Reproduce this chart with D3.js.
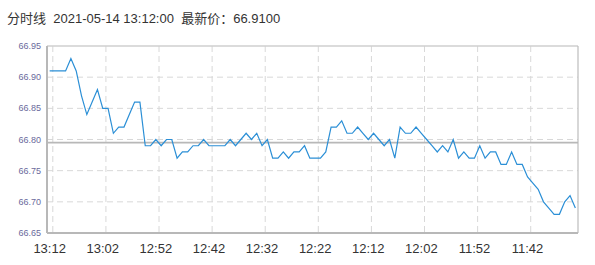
<!DOCTYPE html>
<html>
<head>
<meta charset="utf-8">
<script src="https://cdn.jsdelivr.net/npm/d3@7"></script>
<style>
  body { margin: 0; background: #fff; }
  svg { display: block; }
</style>
</head>
<body>
<svg id="chart"></svg>
<script>

// minutes, newest first (the chart runs right-to-left in time)
var times = [
  "13:12","13:11","13:10","13:09","13:08","13:07","13:06","13:05","13:04","13:03",
  "13:02","13:01","13:00","12:59","12:58","12:57","12:56","12:55","12:54","12:53",
  "12:52","12:51","12:50","12:49","12:48","12:47","12:46","12:45","12:44","12:43",
  "12:42","12:41","12:40","12:39","12:38","12:37","12:36","12:35","12:34","12:33",
  "12:32","12:31","12:30","12:29","12:28","12:27","12:26","12:25","12:24","12:23",
  "12:22","12:21","12:20","12:19","12:18","12:17","12:16","12:15","12:14","12:13",
  "12:12","12:11","12:10","12:09","12:08","12:07","12:06","12:05","12:04","12:03",
  "12:02","12:01","12:00","11:59","11:58","11:57","11:56","11:55","11:54","11:53",
  "11:52","11:51","11:50","11:49","11:48","11:47","11:46","11:45","11:44","11:43",
  "11:42","11:41","11:40","11:39","11:38","11:37","11:36","11:35","11:34","11:33"
];

var prices = [
  66.91,66.91,66.91,66.91,66.93,66.91,66.87,66.84,66.86,66.88,
  66.85,66.85,66.81,66.82,66.82,66.84,66.86,66.86,66.79,66.79,
  66.80,66.79,66.80,66.80,66.77,66.78,66.78,66.79,66.79,66.80,
  66.79,66.79,66.79,66.79,66.80,66.79,66.80,66.81,66.80,66.81,
  66.79,66.80,66.77,66.77,66.78,66.77,66.78,66.78,66.79,66.77,
  66.77,66.77,66.78,66.82,66.82,66.83,66.81,66.81,66.82,66.81,
  66.80,66.81,66.80,66.79,66.80,66.77,66.82,66.81,66.81,66.82,
  66.81,66.80,66.79,66.78,66.79,66.78,66.80,66.77,66.78,66.77,
  66.77,66.79,66.77,66.78,66.78,66.76,66.76,66.78,66.76,66.76,
  66.74,66.73,66.72,66.70,66.69,66.68,66.68,66.70,66.71,66.69
];

var xTickLabels = ["13:12","13:02","12:52","12:42","12:32","12:22","12:12","12:02","11:52","11:42"];
var yTicks = [66.65, 66.70, 66.75, 66.80, 66.85, 66.90, 66.95];
var prevClose = 66.795;
var titleText = "分时线  2021-05-14 13:12:00  最新价：66.9100";

var width = 595, height = 265;
var margin = {top: 46, right: 17, bottom: 32, left: 47};

var svg = d3.select("#chart")
    .attr("width", width)
    .attr("height", height);

var x = d3.scaleBand()
    .domain(times)
    .range([margin.left, width - margin.right])
    .padding(0);

var bw = x.bandwidth();
function cx(t) { return x(t) + bw / 2; }

var y = d3.scaleLinear()
    .domain([66.65, 66.95])
    .range([height - margin.bottom, margin.top]);

var x0 = margin.left, x1 = width - margin.right;
var y0 = y(66.65), y1 = y(66.95);

// title
svg.append("text")
    .attr("x", 7)
    .attr("y", 23)
    .attr("font-family", "'Liberation Sans', 'Noto Sans CJK SC', sans-serif")
    .attr("font-size", 13)
    .attr("fill", "#333")
    .style("white-space", "pre")
    .attr("xml:space", "preserve")
    .text(titleText);

// horizontal dashed grid
svg.append("g")
  .selectAll("line")
  .data(yTicks.slice(1, -1))
  .enter().append("line")
    .attr("x1", x0).attr("x2", x1)
    .attr("y1", function(d) { return y(d); })
    .attr("y2", function(d) { return y(d); })
    .attr("stroke", "#d8d8d8")
    .attr("stroke-width", 1)
    .attr("stroke-dasharray", "6,4");

// vertical dashed grid (sits at the right edge of each labelled minute)
svg.append("g")
  .selectAll("line")
  .data(xTickLabels)
  .enter().append("line")
    .attr("x1", function(d) { return cx(d) + bw / 2 + 0.5; })
    .attr("x2", function(d) { return cx(d) + bw / 2 + 0.5; })
    .attr("y1", y1).attr("y2", y0)
    .attr("stroke", "#d8d8d8")
    .attr("stroke-width", 1)
    .attr("stroke-dasharray", "6,4");

// frame
svg.append("line").attr("x1", x0).attr("x2", x1).attr("y1", y1).attr("y2", y1)
    .attr("stroke", "#cfcfcf").attr("stroke-width", 1.5);
svg.append("line").attr("x1", x1).attr("x2", x1).attr("y1", y1).attr("y2", y0)
    .attr("stroke", "#bdbdbd").attr("stroke-width", 1.2);
svg.append("line").attr("x1", x0).attr("x2", x0).attr("y1", y1).attr("y2", y0)
    .attr("stroke", "#b8b8b8").attr("stroke-width", 2);
svg.append("line").attr("x1", x0).attr("x2", x1).attr("y1", y0).attr("y2", y0)
    .attr("stroke", "#b8b8b8").attr("stroke-width", 2);

// previous close
svg.append("line")
    .attr("x1", x0).attr("x2", x1)
    .attr("y1", y(prevClose)).attr("y2", y(prevClose))
    .attr("stroke", "#b8b8b8")
    .attr("stroke-width", 1.6);

// y labels
svg.append("g")
  .selectAll("text")
  .data(yTicks)
  .enter().append("text")
    .attr("x", 41)
    .attr("y", function(d) { return y(d) + 3; })
    .attr("text-anchor", "end")
    .attr("font-family", "'Liberation Sans', Arial, sans-serif")
    .attr("font-size", 9)
    .attr("fill", "#6a6a9c")
    .text(function(d) { return d.toFixed(2); });

// x labels
svg.append("g")
  .selectAll("text")
  .data(xTickLabels)
  .enter().append("text")
    .attr("x", function(d) { return cx(d); })
    .attr("y", 253)
    .attr("text-anchor", "middle")
    .attr("font-family", "'Liberation Sans', Arial, sans-serif")
    .attr("font-size", 13)
    .attr("fill", "#333")
    .text(function(d) { return d; });

// price line
var line = d3.line()
    .x(function(d, i) { return cx(times[i]); })
    .y(function(d) { return y(d); });

svg.append("path")
    .datum(prices)
    .attr("d", line)
    .attr("fill", "none")
    .attr("stroke", "#2b8fd6")
    .attr("stroke-width", 1.2);

</script>
</body>
</html>
